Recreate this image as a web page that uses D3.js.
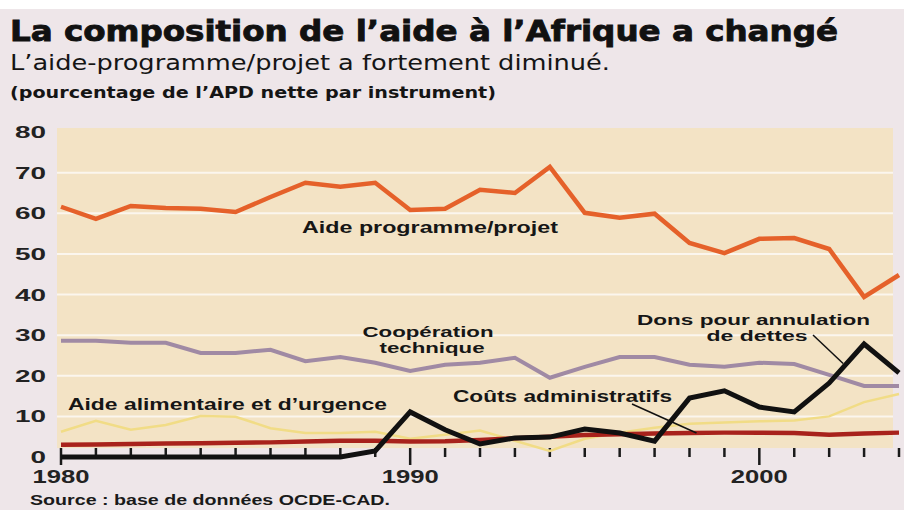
<!DOCTYPE html>
<html>
<head>
<meta charset="utf-8">
<script src="https://cdn.jsdelivr.net/npm/d3@7"></script>
<style>
  body { margin: 0; background: #eee6e9; }
  svg { display: block; }
</style>
</head>
<body>
<div id="chart"></div>
<script>
// years 1980-2004
const years = d3.range(1980, 2005);
const programme = [61.6, 58.6, 61.8, 61.3, 61.1, 60.3, 64.0, 67.5, 66.5, 67.5, 60.8, 61.1, 65.8, 65.0, 71.4, 60.1, 58.9, 59.9, 52.7, 50.2, 53.7, 53.9, 51.2, 39.4, 44.8];
const cooperation = [28.6, 28.6, 28.1, 28.1, 25.6, 25.6, 26.4, 23.6, 24.6, 23.2, 21.2, 22.7, 23.2, 24.4, 19.5, 22.2, 24.6, 24.6, 22.7, 22.2, 23.2, 22.9, 20.2, 17.5, 17.5];
const dettes = [0, 0, 0, 0, 0, 0, 0, 0, 0, 1.5, 11.1, 6.7, 3.2, 4.7, 4.9, 6.9, 5.9, 3.9, 14.5, 16.3, 12.3, 11.1, 18.2, 27.8, 20.7];
const couts = [3.0, 3.1, 3.2, 3.3, 3.4, 3.5, 3.6, 3.8, 4.0, 4.0, 3.8, 3.9, 4.2, 4.6, 5.0, 5.4, 5.6, 5.8, 5.9, 6.0, 6.0, 5.9, 5.5, 5.8, 6.0];
const alimentaire = [6.2, 8.9, 6.7, 7.9, 10.1, 9.9, 7.1, 5.9, 5.9, 6.2, 4.5, 5.5, 6.5, 4.0, 1.5, 4.5, 6.0, 7.2, 8.2, 8.5, 8.8, 9.0, 10.0, 13.5, 15.5];
const yTicks = [0, 10, 20, 30, 40, 50, 60, 70, 80];
const xLabels = [1980, 1990, 2000];

const w = 904;
const h = 510;

const svg = d3.select('#chart')
              .append('svg')
              .attr('width', w)
              .attr('height', h);

// white strip at top of the scan
svg.append('rect').attr('x', 0).attr('y', 0).attr('width', w).attr('height', 9).attr('fill', '#ffffff');

const xScale = d3.scaleLinear().domain([1980, 2004]).range([61, 899]);
const yScale = d3.scaleLinear().domain([0, 80]).range([457, 132]);

// titles
svg.append('text')
   .attr('x', 10).attr('y', 41)
   .attr('font-family', 'DejaVu Sans Condensed, DejaVu Sans, sans-serif')
   .attr('font-weight', 'bold')
   .attr('font-size', 29)
   .attr('textLength', 828)
   .attr('lengthAdjust', 'spacingAndGlyphs')
   .attr('stroke', '#111')
   .attr('stroke-width', 0.8)
   .attr('fill', '#111')
   .text('La composition de l’aide à l’Afrique a changé');
svg.append('text')
   .attr('x', 10).attr('y', 70)
   .attr('font-family', 'DejaVu Sans Condensed, DejaVu Sans, sans-serif')
   .attr('font-size', 21)
   .attr('textLength', 600)
   .attr('lengthAdjust', 'spacingAndGlyphs')
   .attr('fill', '#151515')
   .text('L’aide-programme/projet a fortement diminué.');
svg.append('text')
   .attr('x', 10).attr('y', 98)
   .attr('font-family', 'DejaVu Sans Condensed, DejaVu Sans, sans-serif')
   .attr('font-weight', 'bold')
   .attr('font-size', 15)
   .attr('textLength', 486)
   .attr('lengthAdjust', 'spacingAndGlyphs')
   .attr('fill', '#151515')
   .text('(pourcentage de l’APD nette par instrument)');

// panel
svg.append('rect')
   .attr('x', 57)
   .attr('y', 128)
   .attr('width', 893 - 57)
   .attr('height', yScale(2.2) - 128)
   .attr('fill', '#f3e3c5');

// grid lines
svg.selectAll('.grid')
   .data(yTicks.filter(d => d > 0 && d < 80))
   .enter()
   .append('line')
   .attr('class', 'grid')
   .attr('x1', 57).attr('x2', 893)
   .attr('y1', d => yScale(d)).attr('y2', d => yScale(d))
   .attr('stroke', '#fbf6ee')
   .attr('stroke-width', 2);

// y labels
svg.selectAll('.ylab')
   .data(yTicks)
   .enter()
   .append('text')
   .attr('class', 'ylab')
   .attr('x', 46)
   .attr('y', d => yScale(d) + 6)
   .attr('text-anchor', 'end')
   .attr('font-family', 'Liberation Sans, Arial, sans-serif')
   .attr('font-weight', 'bold')
   .attr('font-size', 17)
   .attr('textLength', d => String(d).length * 15.5)
   .attr('lengthAdjust', 'spacingAndGlyphs')
   .attr('fill', '#222')
   .text(d => d);

// x ticks: every year upward from zero, decades also below
const y0 = yScale(0);
svg.selectAll('.xtick')
   .data(years)
   .enter()
   .append('line')
   .attr('class', 'xtick')
   .attr('x1', d => xScale(d)).attr('x2', d => xScale(d))
   .attr('y1', y0 - 9)
   .attr('y2', d => xLabels.includes(d) ? y0 + 8 : y0)
   .attr('stroke', '#1a1a1a')
   .attr('stroke-width', 2.5);

svg.selectAll('.xlab')
   .data(xLabels)
   .enter()
   .append('text')
   .attr('class', 'xlab')
   .attr('x', d => xScale(d))
   .attr('y', y0 + 26)
   .attr('text-anchor', 'middle')
   .attr('font-family', 'Liberation Sans, Arial, sans-serif')
   .attr('font-weight', 'bold')
   .attr('font-size', 18)
   .attr('textLength', 57)
   .attr('lengthAdjust', 'spacingAndGlyphs')
   .attr('fill', '#222')
   .text(d => d);

// lines
const line = vals => d3.line()
   .x((d, i) => xScale(years[i]))
   .y(d => yScale(d))(vals);

const series = [
  { vals: alimentaire, color: '#f1dc86', width: 2.5 },
  { vals: couts, color: '#a8221c', width: 4.5 },
  { vals: cooperation, color: '#a08aa4', width: 4 },
  { vals: programme, color: '#e5612a', width: 4.5 },
  { vals: dettes, color: '#111111', width: 5 }
];
svg.selectAll('.series')
   .data(series)
   .enter()
   .append('path')
   .attr('class', 'series')
   .attr('d', d => line(d.vals))
   .attr('fill', 'none')
   .attr('stroke', d => d.color)
   .attr('stroke-width', d => d.width)
   .attr('stroke-linejoin', 'miter');

// series labels
const labelFont = 'Liberation Sans, Arial, sans-serif';
const labels = [
  { t: 'Aide programme/projet', x: 302, y: 233, len: 256, fs: 17, a: 'start' },
  { t: 'Coopération', x: 428, y: 337, len: 131, fs: 15, a: 'middle' },
  { t: 'technique', x: 432, y: 353, len: 105, fs: 15, a: 'middle' },
  { t: 'Dons pour annulation', x: 637, y: 325, len: 233, fs: 15, a: 'start' },
  { t: 'de dettes', x: 757, y: 341, len: 101, fs: 15, a: 'middle' },
  { t: 'Coûts administratifs', x: 453, y: 402, len: 219, fs: 17, a: 'start' },
  { t: 'Aide alimentaire et d’urgence', x: 68, y: 410, len: 319, fs: 17, a: 'start' }
];
svg.selectAll('.lab')
   .data(labels)
   .enter()
   .append('text')
   .attr('class', 'lab')
   .attr('x', d => d.x)
   .attr('y', d => d.y)
   .attr('text-anchor', d => d.a)
   .attr('font-family', labelFont)
   .attr('font-weight', 'bold')
   .attr('font-size', d => d.fs)
   .attr('textLength', d => d.len)
   .attr('lengthAdjust', 'spacingAndGlyphs')
   .attr('fill', '#161616')
   .text(d => d.t);

// leader lines
svg.append('line')
   .attr('x1', 813).attr('y1', 335)
   .attr('x2', xScale(2002.4)).attr('y2', yScale(23))
   .attr('stroke', '#111').attr('stroke-width', 1.5);
svg.append('line')
   .attr('x1', 632).attr('y1', 404)
   .attr('x2', xScale(1998.2)).attr('y2', yScale(5.9))
   .attr('stroke', '#111').attr('stroke-width', 1.5);

// source
svg.append('text')
   .attr('x', 30).attr('y', 505)
   .attr('font-family', labelFont)
   .attr('font-weight', 'bold')
   .attr('font-size', 15)
   .attr('textLength', 360)
   .attr('lengthAdjust', 'spacingAndGlyphs')
   .attr('fill', '#1a1a1a')
   .text('Source : base de données OCDE-CAD.');
</script>
</body>
</html>
